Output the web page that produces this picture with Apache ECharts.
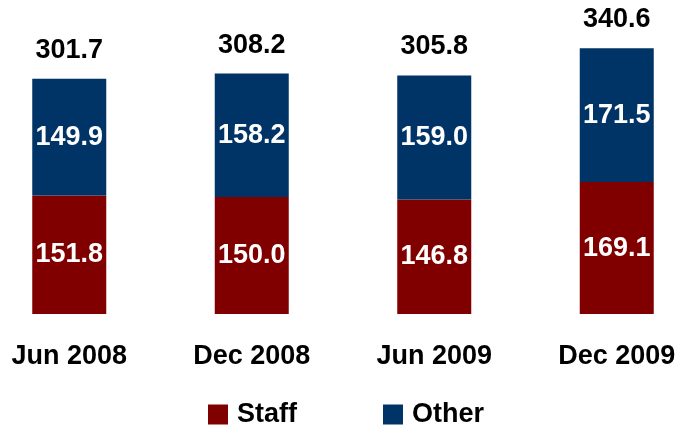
<!DOCTYPE html>
<html>
<head>
<meta charset="utf-8">
<script src="https://cdn.jsdelivr.net/npm/echarts@6/dist/echarts.min.js"></script>
<style>
  html, body { margin: 0; padding: 0; background: #ffffff; overflow: hidden; width: 677px; height: 429px; }
  /* the plot runs slightly past both window edges, so the canvas is wider than the page */
  #chart { position: absolute; left: -22px; top: 0; width: 730px; height: 429px; }
</style>
</head>
<body>
<div id="chart"></div>
<script>
// Headcount breakdown by period
const categories = ['Jun 2008', 'Dec 2008', 'Jun 2009', 'Dec 2009'];
const staff = [151.8, 150.0, 146.8, 169.1];
const other = [149.9, 158.2, 159.0, 171.5];
const totals = [301.7, 308.2, 305.8, 340.6];

const FONT = '"Liberation Sans", Arial, sans-serif';
const RED = '#800000';
const BLUE = '#003366';
const SIZE = 27;

const chart = echarts.init(document.getElementById('chart'), null, { renderer: 'canvas' });

const innerLabel = {
  show: true,
  position: 'inside',
  color: '#ffffff',
  fontFamily: FONT,
  fontWeight: 'bold',
  fontSize: SIZE,
  formatter: p => p.value.toFixed(1)
};

chart.setOption({
  animation: false,
  backgroundColor: '#ffffff',
  grid: { left: 0, right: 0, top: 2, bottom: 115, containLabel: false },
  legend: {
    data: ['Staff', 'Other'],
    left: 225,
    top: 396,
    icon: 'rect',
    itemWidth: 20,
    itemHeight: 20,
    itemGap: 86,
    textStyle: {
      fontFamily: FONT, fontWeight: 'bold', fontSize: SIZE, color: '#000000',
      padding: [0, 0, 0, 4]
    }
  },
  xAxis: {
    type: 'category',
    data: categories,
    axisLine: { show: false },
    axisTick: { show: false },
    axisLabel: {
      margin: 29,
      color: '#000000',
      fontFamily: FONT,
      fontWeight: 'bold',
      fontSize: SIZE
    }
  },
  yAxis: {
    type: 'value',
    min: 0,
    max: 400,
    show: false,
    splitLine: { show: false }
  },
  series: [
    {
      name: 'Staff',
      type: 'bar',
      stack: 'total',
      barWidth: 74,
      itemStyle: { color: RED },
      label: innerLabel,
      data: staff
    },
    {
      name: 'Other',
      type: 'bar',
      stack: 'total',
      barWidth: 74,
      itemStyle: { color: BLUE },
      label: innerLabel,
      data: other
    },
    {
      name: 'Total',
      type: 'scatter',
      silent: true,
      symbolSize: 0,
      itemStyle: { color: '#000000', opacity: 1 },
      label: {
        show: true,
        position: 'top',
        distance: 15,
        color: '#000000',
        fontFamily: FONT,
        fontWeight: 'bold',
        fontSize: SIZE,
        formatter: p => p.value.toFixed(1)
      },
      data: totals
    }
  ]
});
</script>
</body>
</html>
